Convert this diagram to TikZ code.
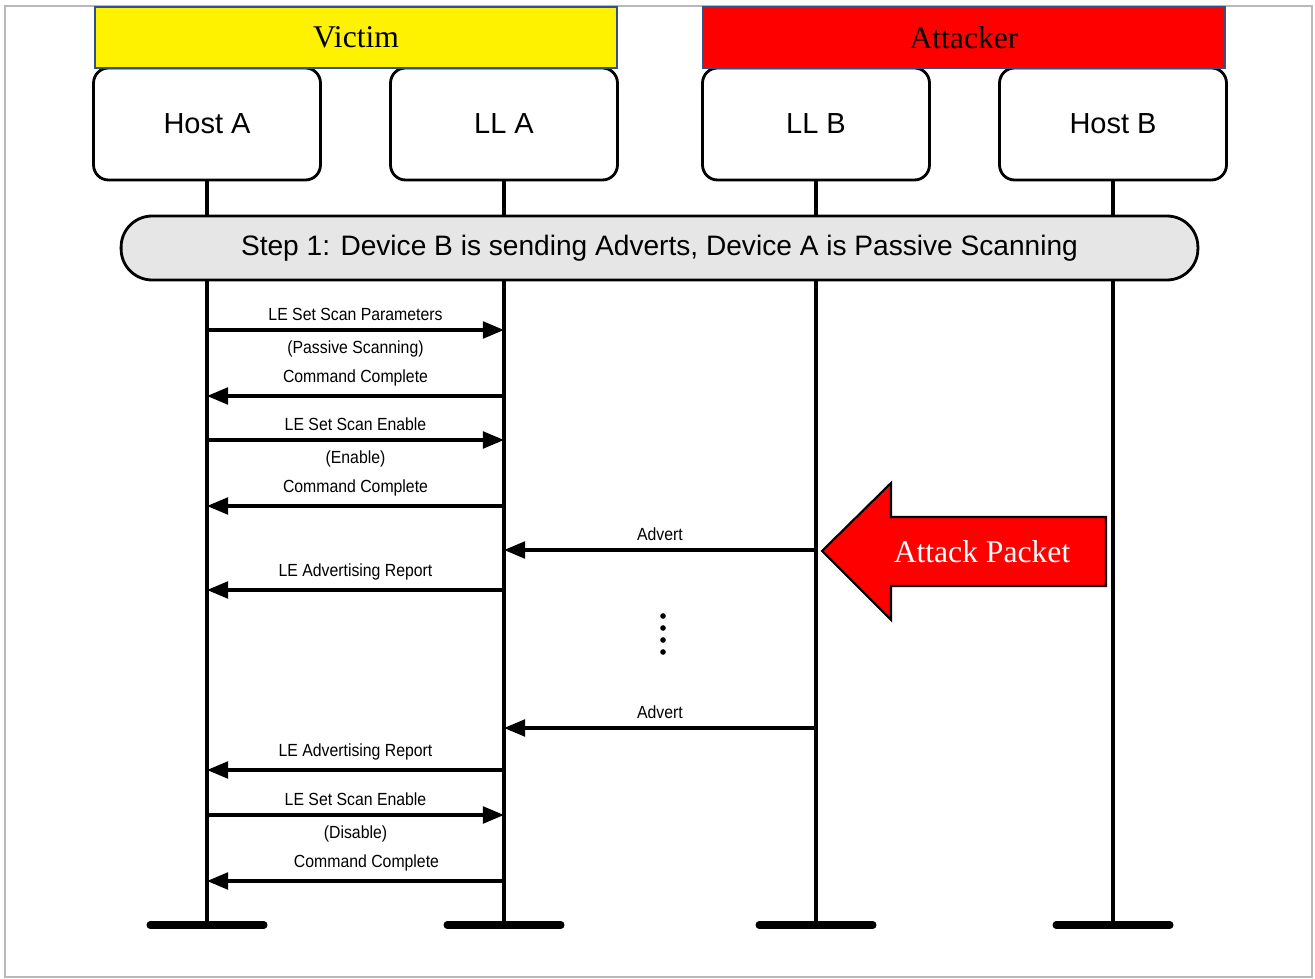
\documentclass[tikz,border=0pt]{standalone}
\usepackage{fontspec}
\setmainfont{Liberation Serif}
\setsansfont{Liberation Sans}
\newfontfamily\narrowsf{Liberation Sans}[FakeStretch=0.9]
\usetikzlibrary{arrows.meta}

\definecolor{officeblue}{RGB}{47,82,143}
\definecolor{stepgray}{RGB}{230,230,230}

\begin{document}
\begin{tikzpicture}[x=0.02cm, y=-0.02cm]
\tikzset{role/.style={draw=officeblue, line width=1pt, minimum width=10.44cm, minimum height=1.22cm, font=\fontsize{18}{20}\selectfont}}
\tikzset{entity/.style={draw, line width=1.6pt, rounded corners=0.3cm, fill=white, minimum width=4.54cm, minimum height=2.24cm, font=\sffamily\fontsize{16.5}{18}\selectfont}}
\tikzset{life/.style={line width=1.9pt}}
\tikzset{foot/.style={line width=4pt, line cap=round}}
\tikzset{msg/.style={line width=1.9pt, -{Triangle[length=12pt,width=9.5pt]}}}
\tikzset{lbl/.style={font=\narrowsf\fontsize{10}{11}\selectfont, inner sep=1pt}}
\useasboundingbox (0,0) rectangle (1315,979);
\draw[gray!55, line width=0.8pt] (5,6) rectangle (1312,977);

% the four parties
\node[entity] (hostA) at (207,124) {Host A};
\node[entity] (llA) at (504,124) {LL A};
\node[entity] (llB) at (816,124) {LL B};
\node[entity] (hostB) at (1113,124) {Host B};
\node[role, fill=yellow] (victim) at (356,37.5) {Victim};
\node[role, fill=red] (attacker) at (964,37.5) {Attacker};

% lifelines
\coordinate (footHA) at (hostA |- 0,925);
\coordinate (footLA) at (llA |- 0,925);
\coordinate (footLB) at (llB |- 0,925);
\coordinate (footHB) at (hostB |- 0,925);
\draw[life] (hostA) -- (footHA);
\draw[life] (llA) -- (footLA);
\draw[life] (llB) -- (footLB);
\draw[life] (hostB) -- (footHB);
\draw[foot] ([xshift=-1.14cm]footHA) -- ([xshift=1.14cm]footHA);
\draw[foot] ([xshift=-1.14cm]footLA) -- ([xshift=1.14cm]footLA);
\draw[foot] ([xshift=-1.14cm]footLB) -- ([xshift=1.14cm]footLB);
\draw[foot] ([xshift=-1.14cm]footHB) -- ([xshift=1.14cm]footHB);

\node[draw, line width=1.6pt, fill=stepgray, rounded corners=0.62cm, minimum width=21.54cm, minimum height=1.28cm,
  font=\sffamily\fontsize{16}{18}\selectfont] (step1) at (659.5,248)
  {Step 1: Device B is sending Adverts, Device A is Passive Scanning};

% messages
\draw[msg] (hostA |- 0,330) -- (llA |- 0,330)
  node[lbl, midway, above=3.5pt] {LE Set Scan Parameters}
  node[lbl, midway, below=4pt] {(Passive Scanning)};
\draw[msg] (llA |- 0,396) -- (hostA |- 0,396)
  node[lbl, midway, above=3.5pt] {Command Complete};
\draw[msg] (hostA |- 0,440) -- (llA |- 0,440)
  node[lbl, midway, above=3.5pt] {LE Set Scan Enable}
  node[lbl, midway, below=4pt] {(Enable)};
\draw[msg] (llA |- 0,506) -- (hostA |- 0,506)
  node[lbl, midway, above=3.5pt] {Command Complete};
\draw[msg] (llB |- 0,550) -- (llA |- 0,550)
  node[lbl, midway, above=3.5pt] {Advert};
\draw[msg] (llA |- 0,590) -- (hostA |- 0,590)
  node[lbl, midway, above=3.5pt] {LE Advertising Report};
\fill (663,616) circle[radius=1.6pt] (663,628) circle[radius=1.6pt]
      (663,640) circle[radius=1.6pt] (663,652) circle[radius=1.6pt];
\draw[msg] (llB |- 0,728) -- (llA |- 0,728)
  node[lbl, midway, above=3.5pt] {Advert};
\draw[msg] (llA |- 0,770) -- (hostA |- 0,770)
  node[lbl, midway, above=3.5pt] {LE Advertising Report};
\draw[msg] (hostA |- 0,815) -- (llA |- 0,815)
  node[lbl, midway, above=3.5pt] {LE Set Scan Enable}
  node[lbl, midway, below=4pt] {(Disable)};
\draw[msg] (llA |- 0,881) -- (hostA |- 0,881)
  node[lbl, midway, above=3.5pt, xshift=0.22cm] {Command Complete};

% attack marker
\draw[line width=1.2pt, fill=red] (822,551) -- (891,483) -- (891,517) -- (1106,517)
  -- (1106,586) -- (891,586) -- (891,620) -- cycle;
\node[text=white, font=\fontsize{18}{20}\selectfont] (atk) at (982,552) {Attack Packet};
\end{tikzpicture}
\end{document}
